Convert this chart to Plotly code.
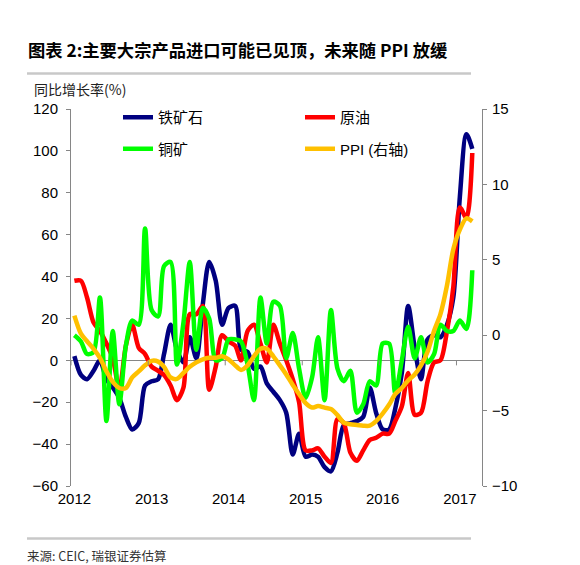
import pandas as pd
import plotly.graph_objects as go

# ---------------- data (monthly, Jan 2012 - Mar 2017) ----------------
months = pd.date_range("2012-01-01", periods=63, freq="MS")

iron_ore = [2, -7, -9, -5, 0, -9, -13, -18, -27, -33,
            -30, -12, -10, -9, 3, 17, 5, -1, 11, 1,
            27, 47, 38, 17, 25, 26, 5, 4, -4, -3,
            -11, -15, -19, -25, -45, -35, -46, -45, -46, -51,
            -53, -44, -31, -30, -29, -27, -13, -25, -33, -33,
            -23, -6, 26, 6, -9, 10, 12, 11, 17, 30,
            78, 108, 101]

crude_oil = [38, 38, 30, 18, 14, 8, 1, -14, 7, 17,
             6, 3, -3, -5, -7, -12, -19, -13, 22, 22,
             26, -14, -3, 12, 9, 7, 0, 14, 17, 8,
             -1, 17, 8, 0, -9, -20, -43, -43, -42, -46,
             -49, -28, -30, -44, -48, -43, -38, -37, -35, -35,
             -29, -22, -6, -26, -25, -10, -1, 0, 14, 35,
             73, 68, 99]

copper_ore = [12, 9, 3, 4, 30, -29, 14, -21, 7, 19,
              17, 63, 24, 21, 45, 47, -2, 18, 47, 5,
              25, 20, 0, 1, 10, 10, 9, -2, -19, 30,
              8, 28, 26, 1, 13, -4, -18, -8, 11, -19,
              24, -4, -10, -5, -25, -21, -10, -12, 8, 8,
              -16, 0, 16, 1, 11, -1, 3, 17, 14, 14,
              19, 15, 43]

ppi = [1.3, 0.1, -0.4, -0.9, -1.5, -2.4, -3.1, -3.5, -3.5, -2.8,
       -2.4, -2.0, -1.7, -1.75, -2.1, -2.8, -2.9, -2.5, -2.1, -1.8,
       -1.6, -1.5, -1.5, -1.4, -1.6, -2.0, -2.3, -2.0, -1.4, -0.9,
       -0.9, -1.4, -2.0, -2.6, -3.3, -3.9, -4.5, -4.8, -4.7, -4.8,
       -4.9, -5.3, -5.8, -5.9, -5.95, -6.0, -6.0, -5.7, -5.2, -4.6,
       -3.9, -3.5, -3.0, -2.6, -2.0, -1.1, 0.3, 1.4, 3.3, 5.7,
       7.0, 7.75, 7.55]

year_ticks = ["2012-01-01", "2013-01-01", "2014-01-01", "2015-01-01", "2016-01-01", "2017-01-01"]
year_labels = ["2012", "2013", "2014", "2015", "2016", "2017"]
year_bounds = ["2011-12-16", "2012-12-16", "2013-12-16", "2014-12-16", "2015-12-16", "2016-12-16"]
left_ticks = [-60, -40, -20, 0, 20, 40, 60, 80, 100, 120]
right_ticks = [-10, -5, 0, 5, 10, 15]

names = ["铁矿石", "原油", "铜矿", "PPI (右轴)"]
colors = ["#000080", "#FF0000", "#00FF00", "#FFC000"]

# ---------------- figure ----------------
W, H = 580, 565
L, R, T, B = 63, 106, 101, 87
PW, PH = W - L - R, H - T - B
x_range = ["2011-12-16", "2017-04-16"]
AX = "#868686"

def line(c):
    return dict(color=c, width=4.5, shape="spline", smoothing=0.8)

fig = go.Figure()
fig.add_trace(go.Scatter(x=months, y=iron_ore, name=names[0], mode="lines", line=line(colors[0]),
                         legend="legend", legendgroup="a"))
fig.add_trace(go.Scatter(x=months, y=crude_oil, name=names[1], mode="lines", line=line(colors[1]),
                         legend="legend2", legendgroup="c"))
fig.add_trace(go.Scatter(x=months, y=copper_ore, name=names[2], mode="lines", line=line(colors[2]),
                         legend="legend", legendgroup="b"))
fig.add_trace(go.Scatter(x=months, y=ppi, name=names[3], mode="lines", line=line(colors[3]),
                         yaxis="y2", legend="legend2", legendgroup="d"))

axis_font = dict(family="Liberation Sans, Arial, sans-serif", size=15, color="#000000")
legend_font = dict(family="Liberation Sans, Noto Sans CJK SC, sans-serif", size=15, color="#000000")

fig.update_layout(
    width=W, height=H,
    margin=dict(l=L, r=R, t=T, b=B, pad=0, autoexpand=False),
    paper_bgcolor="white", plot_bgcolor="white",
    showlegend=True,
    xaxis=dict(type="date", range=x_range, tickvals=year_ticks, ticktext=year_labels,
               showgrid=False, zeroline=False, showline=False, ticks="",
               tickfont=axis_font, tickangle=0, automargin=False, ticklabelstandoff=2),
    yaxis=dict(range=[-60, 120], tickvals=left_ticks, showgrid=False,
               zeroline=True, zerolinecolor=AX, zerolinewidth=1,
               showline=True, linecolor=AX, linewidth=1, ticks="outside",
               ticklen=4, tickcolor=AX, tickfont=axis_font, automargin=False,
               ticklabelstandoff=5),
    yaxis2=dict(range=[-10, 15], tickvals=right_ticks, overlaying="y", side="right",
                anchor="x", showgrid=False, zeroline=False,
                showline=True, linecolor=AX, linewidth=1, ticks="outside",
                ticklen=4, tickcolor=AX, tickfont=axis_font, automargin=False,
                ticklabelstandoff=2),
    legend=dict(xref="container", yref="container", x=110 / W, y=1 - 93 / H,
                xanchor="left", yanchor="top", bgcolor="rgba(0,0,0,0)",
                font=legend_font, tracegroupgap=9, traceorder="grouped"),
    legend2=dict(xref="container", yref="container", x=292 / W, y=1 - 93 / H,
                 xanchor="left", yanchor="top", bgcolor="rgba(0,0,0,0)",
                 font=legend_font, tracegroupgap=9, traceorder="grouped"),
)

# year-boundary tick marks on the zero line
for d in year_bounds:
    fig.add_shape(type="line", xref="x", yref="y", x0=d, x1=d, y0=0, y1=-2.4,
                  line=dict(color=AX, width=1))

# title, separator lines, axis caption, source
fig.add_annotation(text="<b>图表 2:主要大宗产品进口可能已见顶，未来随 PPI 放缓</b>",
                   xref="paper", yref="paper", x=(18 - L) / PW, y=1 + (T - 41) / PH,
                   xanchor="left", yanchor="middle", showarrow=False,
                   font=dict(family="Noto Sans CJK SC, sans-serif", size=17.3, color="#000000"))
fig.add_annotation(text="同比增长率(%)",
                   xref="paper", yref="paper", x=(24 - L) / PW, y=1 + (T - 81) / PH,
                   xanchor="left", yanchor="middle", showarrow=False,
                   font=dict(family="Noto Sans CJK SC, Liberation Sans, sans-serif", size=14, color="#222222"))
fig.add_annotation(text="来源: CEIC, 瑞银证券估算",
                   xref="paper", yref="paper", x=(17 - L) / PW, y=-(547 - (H - B)) / PH,
                   xanchor="left", yanchor="middle", showarrow=False,
                   font=dict(family="Noto Sans CJK SC, sans-serif", size=12.5, color="#333333"))
for yy in (65.5, 530.5):
    fig.add_shape(type="line", xref="paper", yref="paper",
                  x0=(19 - L) / PW, x1=(463 - L) / PW,
                  y0=1 - (yy - T) / PH, y1=1 - (yy - T) / PH,
                  line=dict(color="#C8C8C8", width=2.5))

fig.write_html("out.html")
